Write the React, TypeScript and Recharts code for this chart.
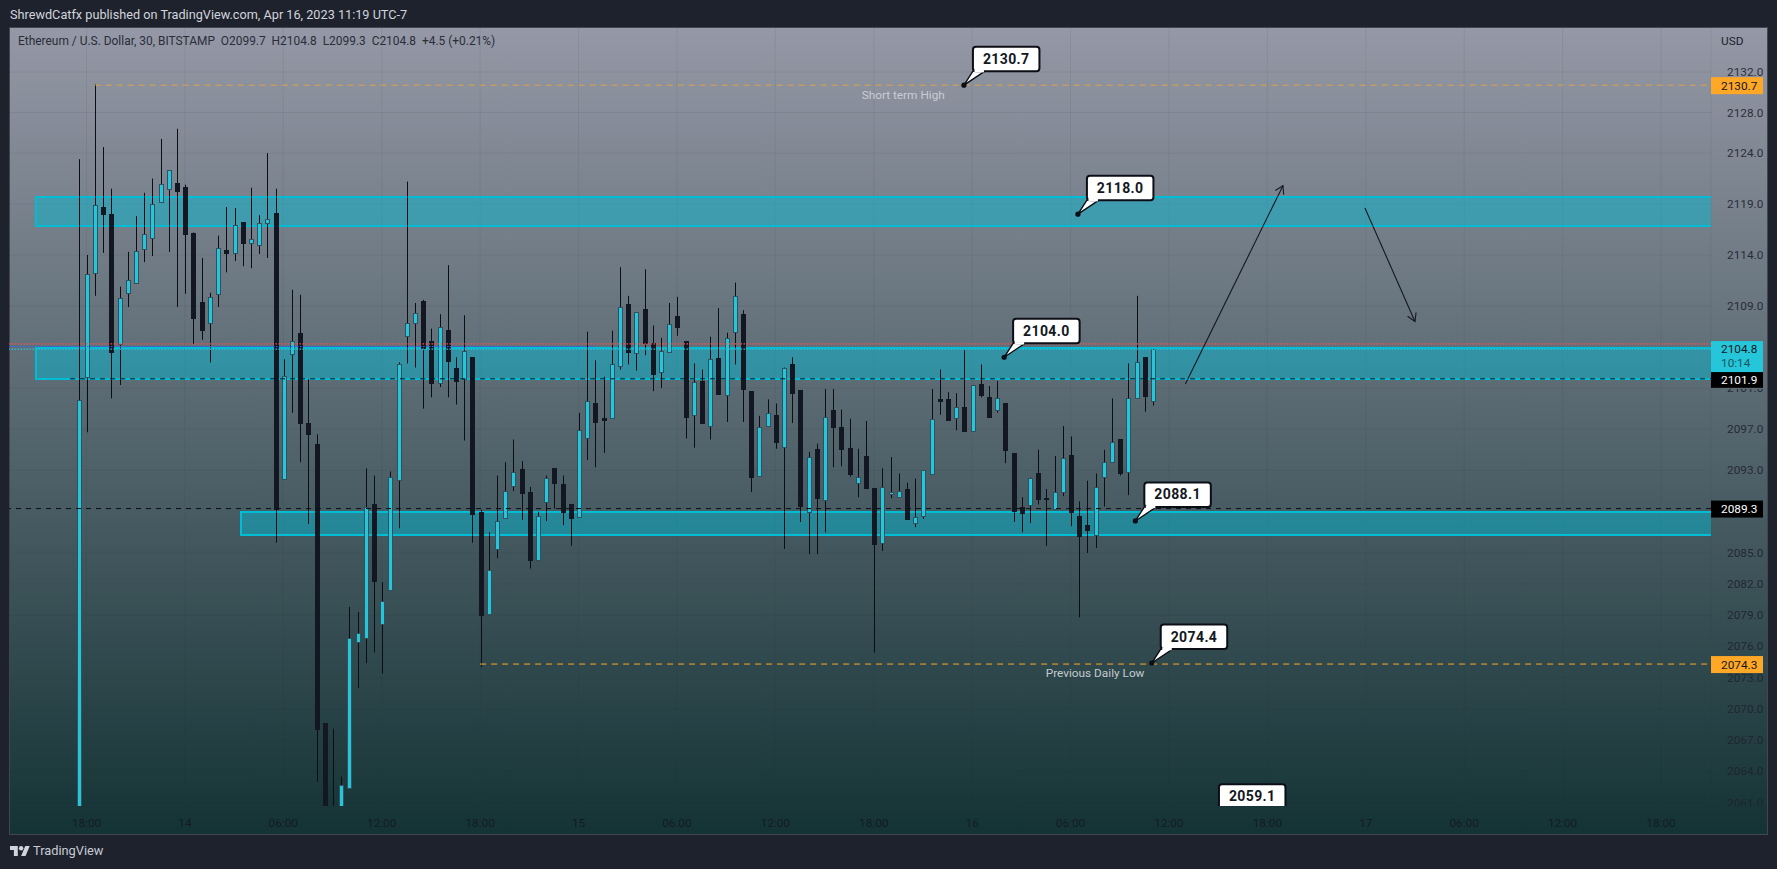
import React from 'react'
import {
  ComposedChart,
  Bar,
  XAxis,
  YAxis,
  CartesianGrid,
  ReferenceArea,
  ReferenceLine,
  ReferenceDot,
} from 'recharts'

// 30 minute bars, first one sits one bar before the 18:00 tick
const firstBar = -1

const opens = [
  2060, 2102.0, 2112.2, 2118.7, 2118.0, 2105.3, 2110.2, 2111.3, 2114.6, 2115.7, 2119.2, 2120.4,
  2121.1, 2120.7, 2116.2, 2109.4, 2107.4, 2110.2, 2114.5, 2114.2, 2117.2, 2115.2, 2114.9, 2117.1,
  2118.1, 2092.2, 2104.3, 2106.4, 2097.6, 2095.6, 2068.6, 2060, 2060, 2062.4, 2076.4, 2076.9,
  2089.7, 2078.2, 2081.5, 2092.0, 2106.0, 2107.3, 2109.5, 2105.6, 2101.5, 2106.7, 2103.0, 2101.9,
  2104.0, 2089.0, 2079.2, 2085.4, 2088.4, 2091.4, 2093.1, 2090.9, 2084.3, 2090.0, 2093.2, 2091.7,
  2089.7, 2088.5, 2096.1, 2099.5, 2098.1, 2098.0, 2103.1, 2109.2, 2104.4, 2108.7, 2105.4, 2102.6,
  2104.5, 2108.0, 2105.6, 2098.4, 2101.7, 2097.3, 2103.9, 2100.3, 2106.5, 2108.2, 2100.7, 2092.4,
  2097.3, 2098.4, 2095.3, 2103.3, 2100.8, 2089.0, 2095.1, 2090.1, 2098.9, 2097.2, 2095.2, 2091.8,
  2094.4, 2091.3, 2086.0, 2090.7, 2090.4, 2091.2, 2087.9, 2088.5, 2092.7, 2099.9, 2099.9, 2098.1,
  2099.2, 2096.8, 2101.4, 2100.1, 2098.8, 2099.5, 2094.7, 2089.5, 2089.7, 2092.7, 2090.3, 2089.3,
  2090.9, 2094.5, 2088.6, 2087.7, 2086.8, 2092.3, 2093.9, 2096.0, 2092.8, 2100.0, 2104.0, 2099.7,
]
const highs = [
  2123.4, 2114.0, 2130.8, 2124.6, 2120.5, 2110.9, 2114.3, 2117.8, 2120.1, 2121.5, 2125.4, 2122.3,
  2126.4, 2120.9, 2116.2, 2113.7, 2110.3, 2115.9, 2118.7, 2118.6, 2117.2, 2120.6, 2117.9, 2124.0,
  2120.5, 2103.8, 2110.6, 2110.1, 2101.9, 2096.5, 2068.6, 2068.1, 2063.5, 2079.8, 2079.3, 2093.2,
  2092.5, 2082.2, 2092.9, 2103.5, 2121.2, 2109.3, 2109.6, 2106.8, 2108.2, 2113.0, 2104.0, 2108.1,
  2104.0, 2089.2, 2087.0, 2092.5, 2093.8, 2096.0, 2093.9, 2091.4, 2089.0, 2092.5, 2093.2, 2092.5,
  2089.7, 2098.6, 2106.5, 2103.7, 2102.1, 2106.6, 2112.8, 2110.0, 2108.4, 2112.6, 2107.1, 2105.9,
  2109.3, 2109.9, 2105.6, 2103.4, 2102.8, 2106.0, 2108.8, 2106.4, 2111.3, 2108.6, 2100.7, 2098.3,
  2099.9, 2099.5, 2103.0, 2104.0, 2100.8, 2094.8, 2095.6, 2100.9, 2100.9, 2098.9, 2098.0, 2095.1,
  2097.8, 2091.3, 2093.2, 2094.3, 2092.7, 2091.8, 2092.2, 2093.0, 2100.9, 2102.8, 2100.6, 2100.5,
  2104.7, 2101.3, 2103.3, 2101.2, 2101.7, 2099.5, 2094.7, 2090.4, 2092.3, 2095.0, 2091.2, 2094.4,
  2097.3, 2096.3, 2090.0, 2092.0, 2092.7, 2095.0, 2100.0, 2096.0, 2103.4, 2110.0, 2104.0, 2104.8,
]
const lows = [
  2060, 2096.7, 2110.0, 2114.2, 2100.0, 2101.3, 2108.9, 2111.3, 2113.3, 2113.9, 2119.1, 2114.3,
  2108.9, 2110.2, 2105.3, 2105.7, 2103.5, 2108.9, 2112.3, 2113.4, 2112.9, 2112.7, 2114.1, 2113.7,
  2086.0, 2092.2, 2098.6, 2093.8, 2087.8, 2063.0, 2060, 2060, 2060, 2062.4, 2072.0, 2074.4,
  2075.4, 2073.4, 2081.5, 2087.4, 2103.4, 2103.0, 2099.0, 2100.1, 2101.1, 2100.1, 2099.4, 2095.9,
  2086.0, 2074.0, 2079.2, 2084.5, 2088.4, 2091.0, 2088.2, 2083.5, 2084.3, 2088.1, 2089.3, 2087.7,
  2085.7, 2088.5, 2094.0, 2093.3, 2094.7, 2098.0, 2102.8, 2103.3, 2102.7, 2104.2, 2100.7, 2101.0,
  2104.5, 2106.1, 2096.1, 2095.2, 2097.5, 2096.0, 2100.4, 2097.7, 2103.3, 2097.7, 2090.9, 2092.4,
  2097.3, 2095.1, 2085.4, 2097.6, 2088.0, 2084.9, 2084.9, 2087.0, 2093.3, 2093.4, 2092.4, 2090.4,
  2091.3, 2075.4, 2085.2, 2090.3, 2090.4, 2088.3, 2087.5, 2088.3, 2092.7, 2098.4, 2097.9, 2096.9,
  2096.9, 2096.8, 2100.1, 2098.2, 2098.6, 2093.7, 2088.0, 2087.0, 2087.9, 2089.7, 2085.7, 2089.3,
  2090.5, 2087.6, 2078.8, 2085.0, 2085.5, 2089.5, 2093.9, 2092.5, 2090.6, 2100.0, 2098.7, 2099.3,
]
const closes = [
  2099.8, 2112.1, 2118.9, 2118.0, 2104.5, 2109.8, 2111.5, 2114.4, 2116.1, 2119.0, 2121.0, 2122.3,
  2120.3, 2116.1, 2107.9, 2106.7, 2109.9, 2114.7, 2114.2, 2116.9, 2115.1, 2115.6, 2117.1, 2117.5,
  2089.2, 2102.2, 2105.6, 2097.6, 2096.5, 2068.1, 2060, 2060, 2062.7, 2076.8, 2077.3, 2089.5,
  2082.3, 2080.4, 2092.4, 2103.3, 2107.3, 2108.3, 2104.9, 2101.5, 2107.0, 2103.7, 2101.7, 2104.6,
  2088.7, 2079.1, 2083.4, 2088.1, 2091.0, 2092.8, 2090.8, 2084.3, 2088.6, 2092.3, 2091.7, 2089.0,
  2088.3, 2096.9, 2099.7, 2097.7, 2097.9, 2103.3, 2108.9, 2104.5, 2108.4, 2105.4, 2102.4, 2104.6,
  2107.2, 2106.9, 2098.2, 2101.6, 2097.6, 2103.8, 2100.4, 2105.9, 2110.0, 2100.9, 2092.3, 2097.2,
  2098.6, 2095.8, 2103.0, 2100.5, 2089.5, 2094.3, 2090.3, 2098.2, 2097.2, 2095.1, 2092.7, 2092.4,
  2091.3, 2085.9, 2091.4, 2090.9, 2091.0, 2088.3, 2088.5, 2093.0, 2098.0, 2099.7, 2097.9, 2099.2,
  2096.9, 2101.3, 2100.3, 2098.2, 2100.0, 2094.9, 2089.1, 2088.9, 2092.3, 2090.2, 2090.2, 2090.9,
  2094.2, 2089.0, 2086.7, 2087.2, 2091.4, 2093.8, 2095.8, 2092.7, 2100.0, 2103.5, 2100.2, 2104.8,
]

// 2105 and 2089 are hidden behind the price tags in the original
const priceTicks = [
  2132, 2128, 2124, 2119, 2114, 2109, 2101, 2097, 2093, 2085, 2082, 2079, 2076, 2073,
  2070, 2067, 2064, 2061,
]
const timeTicks = [0, 12, 24, 36, 48, 60, 72, 84, 96, 108, 120, 132, 144, 156, 168, 180, 192]
const timeLabels = [
  '18:00', '14', '06:00', '12:00', '18:00', '15', '06:00', '12:00', '18:00', '16', '06:00', '12:00',
  '18:00', '17', '06:00', '12:00', '18:00',
]

const candles = opens.map((open, i) => ({
  index: firstBar + i,
  open,
  high: highs[i],
  low: lows[i],
  close: closes[i],
  range: [lows[i], highs[i]],
}))

const domainX = [-9.45, 198.1]
const domainY = [2060.7, 2136.45]
const rightEdge = domainX[1]
const leftEdge = domainX[0]

const zones = [
  { from: -6.1, top: 2119.69, bottom: 2116.84 },
  { from: -6.1, top: 2104.88, bottom: 2101.92 },
  { from: 18.9, top: 2088.97, bottom: 2086.75 },
]
const callouts = [
  { index: 107, price: 2130.7, text: '2130.7' },
  { index: 120.9, price: 2118.0, text: '2118.0' },
  { index: 111.9, price: 2104.0, text: '2104.0' },
  { index: 127.9, price: 2088.1, text: '2088.1' },
  { index: 129.9, price: 2074.4, text: '2074.4' },
  { index: 137, price: 2059.1, text: '2059.1' },
]
const arrows = [
  { from: [134, 2101.4], to: [145.9, 2120.8] },
  { from: [155.9, 2118.6], to: [162, 2107.5] },
]
const notes = [
  { index: 99.6, price: 2129.76, text: 'Short term High', color: '#c9ccd3' },
  { index: 123, price: 2073.4, text: 'Previous Daily Low', color: '#c3cace' },
]
const priceTags = [
  { price: 2130.7, text: '2130.7', fill: '#ffa726', color: '#131722' },
  { price: 2101.9, text: '2101.9', fill: '#000000', color: '#ffffff' },
  { price: 2089.3, text: '2089.3', fill: '#000000', color: '#ffffff' },
  { price: 2074.3, text: '2074.3', fill: '#ffa726', color: '#131722' },
]

const uiFont = 'Roboto, "Noto Sans", sans-serif'

function Candle(props: any) {
  const { x, y, width, height, payload } = props
  // price axis is logarithmic, so open/close are placed inside the bar on the same scale
  const span = Math.log(payload.high / payload.low) || 1
  const cx = Math.round(x + width / 2)
  const yOpen = y + (Math.log(payload.high / payload.open) / span) * height
  const yClose = y + (Math.log(payload.high / payload.close) / span) * height
  const up = payload.close >= payload.open
  const top = Math.round(Math.min(yOpen, yClose))
  const h = Math.max(Math.round(Math.abs(yClose - yOpen)), 1)
  return (
    <g>
      <rect x={cx} y={y} width={1} height={height} fill="#0b0e14" />
      <rect
        x={cx - 1.5}
        y={top + 0.5}
        width={4}
        height={h}
        fill={up ? '#26c6da' : '#131722'}
        stroke={up ? '#33505e' : '#131722'}
        strokeWidth={1}
      />
    </g>
  )
}

function Zone(props: any) {
  const { x, y, width, height } = props
  const top = Math.round(y)
  const bottom = Math.round(y + height)
  return (
    <g clipPath="url(#plot-clip)">
      <rect
        x={Math.round(x)}
        y={top}
        width={width}
        height={bottom - top}
        fill="#00bcd4"
        fillOpacity={0.47}
        stroke="#00bcd4"
        strokeWidth={2}
      />
    </g>
  )
}

function PriceTick(props: any) {
  const { x, y, payload } = props
  return (
    <g clipPath="url(#price-axis-clip)">
      <text x={x} y={y + 4} fontSize={11.8} fontFamily={uiFont} fill="#1e222d" fillOpacity={0.9}>
        {payload.value.toFixed(1)}
      </text>
    </g>
  )
}

function Callout(props: any) {
  const { cx, cy, text } = props
  const left = cx + 9
  const bottom = cy - 14
  return (
    <g clipPath="url(#plot-clip)">
      <polygon
        points={`${cx},${cy} ${left},${bottom} ${left + 12},${bottom}`}
        fill="#ffffff"
        stroke="#0b0e14"
        strokeWidth={1.4}
      />
      <circle cx={cx} cy={cy} r={2.6} fill="#0b0e14" />
      <rect x={left} y={bottom - 24.5} width={66.5} height={24.5} rx={3} fill="#ffffff" stroke="#0b0e14" strokeWidth={2} />
      <line x1={left + 1.5} y1={bottom} x2={left + 11} y2={bottom} stroke="#ffffff" strokeWidth={2.4} />
      <text
        x={left + 33.25}
        y={bottom - 7.5}
        textAnchor="middle"
        fontSize={14}
        fontWeight={700}
        letterSpacing={0.4}
        fontFamily={uiFont}
        fill="#131722"
      >
        {text}
      </text>
    </g>
  )
}

function Arrow(props: any) {
  const { x1, y1, x2, y2 } = props
  const angle = Math.atan2(y2 - y1, x2 - x1)
  const head = (turn: number) =>
    `${x2 + 9 * Math.cos(angle + turn)},${y2 + 9 * Math.sin(angle + turn)}`
  return (
    <g stroke="#131722" strokeWidth={1.1} fill="none">
      <line x1={x1} y1={y1} x2={x2} y2={y2} />
      <polyline points={`${head(2.6)} ${x2},${y2} ${head(-2.6)}`} />
    </g>
  )
}

function PriceTag(props: any) {
  const { cx, cy, text, fill, color } = props
  return (
    <g>
      <rect x={cx} y={cy - 8} width={52} height={17} fill={fill} />
      <text x={cx + 10} y={cy + 4.7} fontSize={11.8} fontFamily={uiFont} fill={color}>
        {text}
      </text>
    </g>
  )
}

function LastPriceTag(props: any) {
  const { cx, cy } = props
  return (
    <g fontSize={11.8} fontFamily={uiFont}>
      <rect x={cx} y={cy - 8} width={52} height={31} fill="#26c6da" />
      <text x={cx + 10} y={cy + 4.2} fill="#131722">2104.8</text>
      <text x={cx + 10} y={cy + 18.2} fill="#1c5560">10:14</text>
    </g>
  )
}

export default function App() {
  return (
    <div style={{ position: 'fixed', left: 0, top: 0, width: 1777, height: 869, background: '#1e222d', overflow: 'hidden' }}>
      <div
        style={{
          position: 'absolute',
          left: 9,
          top: 27,
          width: 1757,
          height: 806,
          border: '1px solid #434651',
          background: 'linear-gradient(180deg, #9598a6 0%, #143335 100%)',
        }}
      />
      <div style={{ position: 'absolute', left: 10, top: 7, fontFamily: uiFont, fontSize: 12.7, color: '#d1d4dc', whiteSpace: 'pre' }}>
        ShrewdCatfx published on TradingView.com, Apr 16, 2023 11:19 UTC-7
      </div>
      <div style={{ position: 'absolute', left: 18, top: 34, fontFamily: uiFont, fontSize: 11.93, color: '#2a2e39', whiteSpace: 'pre' }}>
        {'Ethereum / U.S. Dollar, 30, BITSTAMP  O2099.7  H2104.8  L2099.3  C2104.8  +4.5 (+0.21%)'}
      </div>
      <div style={{ position: 'absolute', left: 1721, top: 34, fontFamily: uiFont, fontSize: 11.8, color: '#1e222d' }}>USD</div>

      <div style={{ position: 'absolute', left: 0, top: 0 }}>
        <ComposedChart
          width={1777}
          height={869}
          data={candles}
          margin={{ top: 27, right: 0, bottom: 0, left: 9 }}
        >
          <defs>
            <clipPath id="plot-clip">
              <rect x={10} y={27} width={1701} height={779} />
            </clipPath>
            <clipPath id="price-axis-clip">
              <rect x={1711} y={27} width={66} height={345} />
              <rect x={1711} y={389} width={66} height={417} />
            </clipPath>
          </defs>
          <CartesianGrid stroke="#2a2e39" strokeOpacity={0.08} />
          <XAxis
            dataKey="index"
            type="number"
            domain={domainX}
            ticks={timeTicks}
            interval={0}
            allowDataOverflow
            height={63}
            axisLine={false}
            tickLine={false}
            tickMargin={7}
            tickFormatter={(v: number) => timeLabels[timeTicks.indexOf(v)]}
            tick={{ fontSize: 11.8, fontFamily: uiFont, fill: '#131722', fillOpacity: 0.9 }}
          />
          <YAxis
            orientation="right"
            scale="log"
            domain={domainY}
            ticks={priceTicks}
            interval={0}
            allowDataOverflow
            width={66}
            axisLine={false}
            tickLine={false}
            tickMargin={10}
            tick={<PriceTick />}
          />

          {zones.map((z, i) => (
            <ReferenceArea
              key={i}
              x1={z.from}
              x2={rightEdge + 0.5}
              y1={z.bottom}
              y2={z.top}
              ifOverflow="visible"
              shape={<Zone />}
            />
          ))}

          <Bar
            dataKey="range"
            barSize={5}
            isAnimationActive={false}
            shape={<Candle />}
          />

          <ReferenceLine
            segment={[{ x: 1, y: 2130.7 }, { x: rightEdge, y: 2130.7 }]}
            stroke="#ffa726"
            strokeOpacity={0.75}
            strokeDasharray="6 5"
          />
          <ReferenceLine
            segment={[{ x: 48, y: 2074.3 }, { x: rightEdge, y: 2074.3 }]}
            stroke="#ffa726"
            strokeDasharray="6 5"
          />
          <ReferenceLine
            segment={[{ x: -2, y: 2101.9 }, { x: rightEdge, y: 2101.9 }]}
            stroke="#0b0e14"
            strokeDasharray="5 5"
          />
          <ReferenceLine y={2089.3} stroke="#0b0e14" strokeDasharray="5 5" />
          <ReferenceLine y={2105.3} stroke="#ef5350" strokeWidth={1.2} strokeDasharray="1.5 1.5" />
          <ReferenceLine
            segment={[{ x: leftEdge, y: 2105.05 }, { x: 62, y: 2105.05 }]}
            stroke="#2962ff"
            strokeWidth={1.2}
            strokeDasharray="1.5 1.5"
          />
          <ReferenceLine y={2104.8} stroke="#26c6da" strokeWidth={1.2} strokeDasharray="1.5 1.5" />

          {arrows.map((a, i) => (
            <ReferenceLine
              key={i}
              segment={[{ x: a.from[0], y: a.from[1] }, { x: a.to[0], y: a.to[1] }]}
              shape={<Arrow />}
            />
          ))}

          {notes.map((n) => (
            <ReferenceDot
              key={n.text}
              x={n.index}
              y={n.price}
              r={0}
              shape={(p: any) => (
                <text x={p.cx} y={p.cy + 4} textAnchor="middle" fontSize={11.8} fontFamily={uiFont} fill={n.color}>
                  {n.text}
                </text>
              )}
            />
          ))}

          {callouts.map((c) => (
            <ReferenceDot
              key={c.text}
              x={c.index}
              y={c.price}
              r={0}
              ifOverflow="visible"
              shape={(p: any) => <Callout cx={p.cx} cy={p.cy} text={c.text} />}
            />
          ))}

          {priceTags.map((t) => (
            <ReferenceDot
              key={t.text}
              x={rightEdge}
              y={t.price}
              r={0}
              ifOverflow="visible"
              shape={(p: any) => <PriceTag cx={p.cx} cy={p.cy} text={t.text} fill={t.fill} color={t.color} />}
            />
          ))}
          <ReferenceDot
            x={rightEdge}
            y={2104.8}
            r={0}
            ifOverflow="visible"
            shape={(p: any) => <LastPriceTag cx={p.cx} cy={p.cy} />}
          />
        </ComposedChart>
      </div>

      <svg style={{ position: 'absolute', left: 10, top: 844 }} width={20} height={14} viewBox="0 2 36 22">
        <path d="M14 22H7V11H0V4h14v18zM28 22h-8l7.5-18h8L28 22z" fill="#d1d4dc" />
        <circle cx={20} cy={8} r={4} fill="#d1d4dc" />
      </svg>
      <div style={{ position: 'absolute', left: 33, top: 843, fontFamily: uiFont, fontSize: 12.8, color: '#c8ccd6' }}>TradingView</div>
    </div>
  )
}
